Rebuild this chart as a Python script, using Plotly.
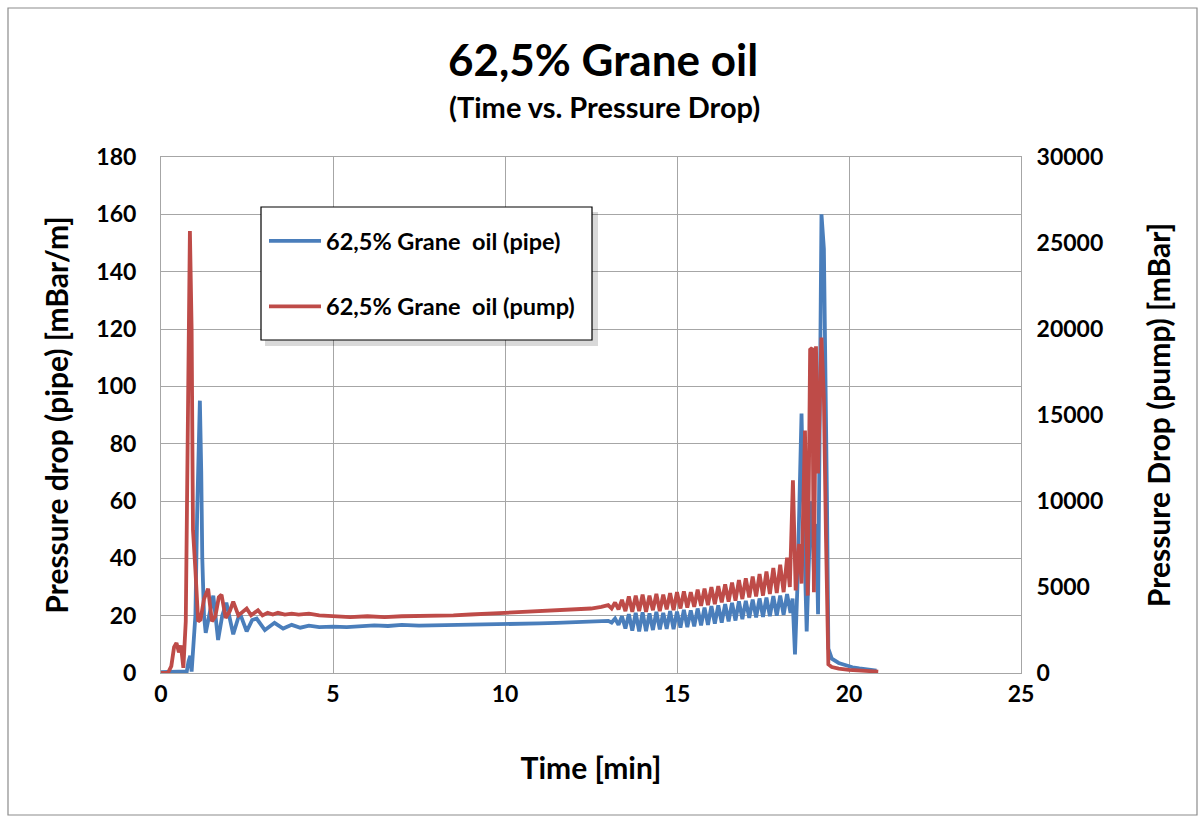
import plotly.graph_objects as go

# ---------------- data ----------------
pipe_time = [0, 0.5, 0.75, 0.8, 0.85, 0.89, 0.95, 1.0, 1.05, 1.13, 1.17, 1.2, 1.25, 1.3, 1.4,
             1.52, 1.66, 1.78, 1.9, 2.1, 2.29, 2.49, 2.65, 2.78, 3.02, 3.3, 3.55, 3.8, 4.05,
             4.3, 4.6, 5.0, 5.4, 5.8, 6.2, 6.6, 7.0, 7.5, 8.0, 8.5, 9.0, 9.5, 10.0, 10.5, 11.0,
             11.5, 12.0, 12.5, 12.8,
             13.0, 13.1, 13.2, 13.3, 13.4, 13.5, 13.6, 13.7, 13.8, 13.9, 14.0, 14.1, 14.2, 14.3,
             14.4, 14.5, 14.6, 14.7, 14.8, 14.9, 15.0, 15.1, 15.2, 15.3, 15.4, 15.5, 15.6, 15.7,
             15.8, 15.9, 16.0, 16.1, 16.2, 16.3, 16.4, 16.5, 16.6, 16.7, 16.8, 16.9, 17.0, 17.1,
             17.2, 17.3, 17.4, 17.5, 17.6, 17.7, 17.8, 17.9, 18.0, 18.1, 18.2, 18.3,
             18.36, 18.43, 18.5, 18.56, 18.62, 18.68, 18.77, 18.85, 18.92, 18.98, 19.05, 19.1,
             19.15, 19.2, 19.27, 19.32, 19.36, 19.4, 19.5, 19.7, 19.9, 20.1, 20.3, 20.5, 20.8]
pipe_drop = [0.3, 0.4, 0.6, 4, 6, 0.5, 10, 20, 55, 95, 70, 40, 20, 14, 20,
             27, 11.5, 20, 24.5, 13.5, 21, 14.5, 18.5, 19, 15, 17.5, 15.5, 16.8, 15.8,
             16.5, 16, 16.2, 16, 16.3, 16.6, 16.4, 16.8, 16.5, 16.6, 16.7, 16.6, 16.8, 17.0, 17.2, 17.3,
             17.5, 17.8, 18.0, 18.2,
             18.2, 17.6, 19.0, 16.8, 19.8, 15.5, 20.5, 14.8, 21.0, 14.5, 21.2, 14.6, 20.8, 15.0,
             21.3, 15.2, 21.0, 15.4, 21.6, 15.3, 21.4, 15.8, 22.0, 16.0, 21.8, 16.3, 22.5, 16.6,
             22.8, 16.8, 23.3, 17.2, 23.6, 17.6, 24.0, 18.0, 24.5, 18.3, 25.0, 18.8, 25.2, 19.2,
             25.6, 19.4, 26.0, 19.6, 26.3, 19.8, 26.8, 20.0, 27.0, 20.3, 27.5, 21.0,
             26.0, 6.5, 30, 60, 90.5, 55, 14.5, 45, 60, 35, 52, 20.5,
             90, 160, 148, 110, 60, 8.5, 5, 3.5, 2.7, 2.0, 1.6, 1.2, 0.8]

pump_time = [0, 0.2, 0.3, 0.38, 0.45, 0.52, 0.58, 0.65, 0.72, 0.78, 0.84, 0.89, 0.93, 1.0, 1.08,
             1.15, 1.25, 1.37, 1.48, 1.58, 1.68, 1.76, 1.88, 2.0, 2.1, 2.25, 2.38, 2.49, 2.62,
             2.72, 2.82, 2.95, 3.1, 3.25, 3.4, 3.6, 3.8, 4.0, 4.3, 4.6, 5.0, 5.5, 6.0, 6.5, 7.0,
             7.5, 8.0, 8.5, 9.0, 9.5, 10.0, 10.5, 11.0, 11.5, 12.0, 12.5, 12.8,
             13.0, 13.1, 13.2, 13.3, 13.4, 13.5, 13.6, 13.7, 13.8, 13.9, 14.0, 14.1, 14.2, 14.3,
             14.4, 14.5, 14.6, 14.7, 14.8, 14.9, 15.0, 15.1, 15.2, 15.3, 15.4, 15.5, 15.6, 15.7,
             15.8, 15.9, 16.0, 16.1, 16.2, 16.3, 16.4, 16.5, 16.6, 16.7, 16.8, 16.9, 17.0, 17.1,
             17.2, 17.3, 17.4, 17.5, 17.6, 17.7, 17.8, 17.9, 18.0, 18.1, 18.2,
             18.28, 18.37, 18.45, 18.55, 18.62, 18.72, 18.8, 18.87, 18.93, 18.98, 19.04, 19.1,
             19.2, 19.27, 19.33, 19.4, 19.5, 19.7, 20.0, 20.4, 20.85]
pump_drop = [0, 0, 400, 1500, 1750, 1200, 1600, 300, 3000, 15000, 25700, 20000, 8300, 6000, 3000,
             3100, 4300, 4900, 3000, 3300, 4400, 4550, 3200, 3600, 4150, 3350, 3550, 3750, 3350,
             3500, 3650, 3350, 3500, 3400, 3500, 3400, 3450, 3400, 3450, 3350, 3300, 3250, 3300, 3250, 3300,
             3300, 3350, 3350, 3400, 3450, 3500, 3500, 3550, 3600, 3650, 3750, 3850,
             3950, 3750, 4100, 3700, 4250, 3600, 4450, 3550, 4500, 3600, 4550, 3550, 4500, 3650,
             4600, 3600, 4550, 3700, 4650, 3650, 4700, 3750, 4750, 3800, 4700, 3850, 4850, 3900,
             4900, 3950, 5000, 4000, 5050, 4100, 5150, 4150, 5250, 4200, 5400, 4300, 5500, 4400,
             5600, 4450, 5750, 4500, 5900, 4600, 6100, 4650, 6300, 4700, 6700,
             5000, 11200, 4800, 7500, 5200, 14100, 4500, 18800, 18900, 4700, 19000, 11600,
             19500, 16000, 8000, 500, 350, 250, 180, 120, 80]

pipe_ticks = [0, 20, 40, 60, 80, 100, 120, 140, 160, 180]
pump_ticks = [0, 5000, 10000, 15000, 20000, 25000, 30000]
pump_tick_labels = ["0", "5000", "10000", "15000", "20000", "25000", "30000"]
time_ticks = [0, 5, 10, 15, 20, 25]

# ---------------- figure ----------------
W, H = 1198, 816
L, R, T, B = 161, 1021, 157, 673
FONT = "Lato"
BLUE = "#4a7ebb"
RED = "#be4b48"
GRID = "#a6a6a6"

def px(x):
    return (x - L) / (R - L)

def py(y):
    return (B - y) / (B - T)

fig = go.Figure()
fig.add_trace(go.Scatter(x=pipe_time, y=pipe_drop, mode="lines",
                         name="62,5% Grane  oil (pipe)", legendgroup="a",
                         line=dict(color=BLUE, width=3.8)))
fig.add_trace(go.Scatter(x=pump_time, y=pump_drop, mode="lines", yaxis="y2",
                         name="62,5% Grane  oil (pump)", legendgroup="b",
                         line=dict(color=RED, width=3.8)))

tickfont = dict(family=FONT, size=23, color="black", weight="bold")
axtitlefont = dict(family=FONT, size=30, color="black", weight="bold")

fig.update_layout(
    width=W, height=H,
    margin=dict(l=L, r=W - R, t=T, b=H - B),
    paper_bgcolor="white", plot_bgcolor="white",
    font=dict(family=FONT, color="black"),
    showlegend=True,
    legend=dict(x=px(264), y=py(219), xanchor="left", yanchor="top",
                bgcolor="rgba(0,0,0,0)", borderwidth=0,
                font=dict(family=FONT, size=23.5, color="black", weight="bold"),
                tracegroupgap=32, itemwidth=52),
    xaxis=dict(range=[0, 25], tickvals=time_ticks, showgrid=True, gridcolor=GRID,
               gridwidth=1, zeroline=False, showline=True, linecolor=GRID, linewidth=1,
               mirror=True, ticks="", tickfont=tickfont,
               title=dict(text="Time [min]", font=axtitlefont, standoff=52)),
    yaxis=dict(range=[0, 180], tickvals=pipe_ticks, showgrid=True, gridcolor=GRID,
               gridwidth=1, zeroline=False, showline=True, linecolor=GRID, linewidth=1,
               ticks="", tickfont=tickfont, ticklabelstandoff=19,
               title=dict(text="Pressure drop (pipe) [mBar/m]", font=axtitlefont, standoff=18)),
    yaxis2=dict(range=[0, 30000], tickvals=pump_ticks, ticktext=pump_tick_labels,
                overlaying="y", side="right",
                showgrid=False, zeroline=False, showline=True, linecolor=GRID, linewidth=1,
                ticks="", tickfont=tickfont, ticklabelstandoff=10,
                title=dict(text="Pressure Drop (pump) [mBar]", font=axtitlefont, standoff=46)),
)

# titles
fig.add_annotation(text="62,5% Grane oil", x=px(603), y=py(59), xref="paper", yref="paper",
                   yanchor="middle", showarrow=False,
                   font=dict(family=FONT, size=44, weight="bold", color="black"))
fig.add_annotation(text="(Time vs. Pressure Drop)", x=px(604), y=py(106), xref="paper", yref="paper",
                   yanchor="middle", showarrow=False,
                   font=dict(family=FONT, size=29, weight="bold", color="black"))

# legend box: soft shadow + white framed box (legend entries drawn on top)
fig.add_shape(type="rect", xref="paper", yref="paper", layer="above",
              x0=px(265), x1=px(598), y0=py(346), y1=py(212),
              fillcolor="rgba(0,0,0,0.15)", line=dict(width=0))
fig.add_shape(type="rect", xref="paper", yref="paper", layer="above",
              x0=px(261), x1=px(592), y0=py(340), y1=py(207),
              fillcolor="white", line=dict(color="black", width=1.2))

# outer chart border
fig.add_shape(type="rect", xref="paper", yref="paper",
              x0=px(8), x1=px(1197), y0=py(815), y1=py(8),
              line=dict(color="#8c8c8c", width=1.2), fillcolor="rgba(0,0,0,0)")

fig.write_html("out.html", config={"displayModeBar": False},
               post_script="document.body.style.margin='0px';")
